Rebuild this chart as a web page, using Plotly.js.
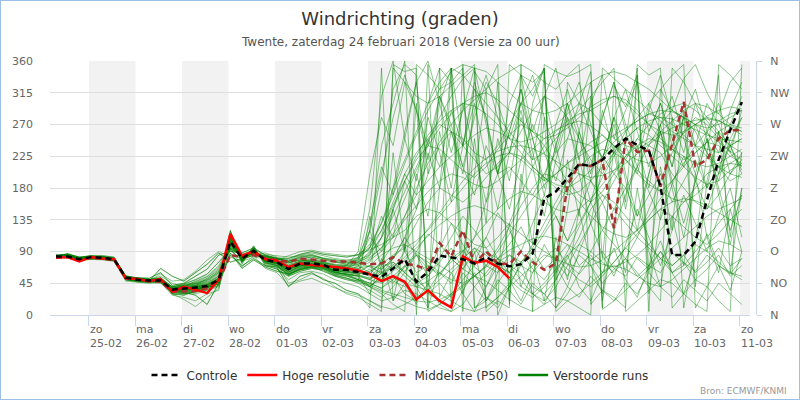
<!DOCTYPE html>
<html><head><meta charset="utf-8">
<script src="https://cdn.plot.ly/plotly-3.0.1.min.js"></script>
<style>
html,body{margin:0;padding:0;background:#fff;}
#chart{width:798px;height:398px;border:1px solid #9cc0ea;}
</style>
</head><body>
<div id="chart"></div>
<script>
// hours since 24-02 00:00 (local)
const timeHours = [7,13,19,25,31,37,43,49,55,61,67,73,79,85,91,97,103,109,115,121,127,133,139,145,151,157,163,169,175,181,187,193,199,205,211,217,223,229,235,241,247,253,259,265,271,277,283,289,295,301,307,313,319,325,331,337,343,349,355,361];
const tickHours = [24,48,72,96,120,144,168,192,216,240,264,288,312,336,360];
const dayNames = ['zo','ma','di','wo','do','vr','za','zo','ma','di','wo','do','vr','za','zo'];
const dayDates = ['25-02','26-02','27-02','28-02','01-03','02-03','03-03','04-03','05-03','06-03','07-03','08-03','09-03','10-03','11-03'];
const dirVals = [0,45,90,135,180,225,270,315,360];
const dirNames = ['N','NO','O','ZO','Z','ZW','W','NW','N'];

const controle = [83,83,79,82,81,79,53,50,49,49,36,37,39,41,50,104,80,91,78,75,65,73,73,71,64,64,61,57,54,66,79,47,61,84,81,79,73,82,73,69,72,87,165,175,194,214,211,220,236,250,241,233,182,85,85,104,163,220,262,302];
const hogeResolutie = [82,82,76,82,80,79,52,51,48,51,33,40,36,31,50,115,84,90,79,77,68,73,71,70,68,66,63,58,48,55,47,22,35,20,11,83,74,77,68,52];
const middelste = [81,82,78,81,80,78,52,50,48,47,33,33,34,38,48,85,82,85,80,78,75,80,78,77,76,76,74,72,73,82,73,70,64,102,83,120,73,90,73,72,90,75,64,73,184,213,211,220,123,250,231,233,182,243,302,211,220,250,262,262];

const run01 = [82,84,78,81,80,78,52,49,48,50,35,36,38,40,48,106,78,90,77,74,62,70,72,70,62,63,58,52,65,80,110,150,200,240,260,250,230,220,240,270,300,320,350,10,30,60,90,120,100,80,60,40,20,350,330,300,280,260,240,250];
const run02 = [85,86,81,84,83,81,56,52,51,47,40,38,42,48,60,95,84,87,82,78,72,76,77,74,70,68,66,70,85,95,100,90,80,70,60,75,110,160,200,210,190,170,200,230,250,245,240,225,200,180,210,240,270,290,280,260,230,210,190,200];
const run03 = [81,82,77,80,79,77,50,48,47,52,30,30,33,36,42,112,76,93,75,70,58,66,69,68,60,58,55,40,30,15,5,355,340,320,330,350,10,20,45,70,60,40,30,50,80,110,150,170,160,140,120,100,80,60,70,90,110,130,150,170];
const run04 = [83,87,82,82,84,82,54,53,52,60,42,45,55,65,85,90,88,95,85,80,76,80,82,78,75,72,75,90,120,160,200,230,250,270,260,240,220,200,210,230,260,290,310,300,280,250,220,200,230,260,280,300,320,340,355,10,40,70,60,50];
const run05 = [80,81,76,79,78,76,48,46,45,46,28,25,20,30,35,118,72,96,72,66,50,60,62,58,50,45,40,30,20,25,35,30,20,10,5,15,40,60,80,70,50,30,20,40,70,100,130,160,190,220,250,240,230,200,180,160,150,170,200,220];
const run06 = [84,83,79,82,80,79,53,50,50,55,45,40,48,55,70,100,85,85,88,82,78,85,88,84,80,78,80,95,130,180,220,260,300,330,350,340,320,300,280,260,240,220,230,250,270,290,310,330,350,5,20,35,50,45,30,15,5,355,340,320];
const run07 = [83,84,80,83,81,80,52,50,49,49,34,32,28,15,45,85,70,80,70,68,40,55,60,50,45,35,30,20,10,355,345,350,5,15,30,50,70,90,80,60,40,30,45,65,85,100,90,75,60,80,110,150,190,230,260,280,270,250,230,210];
const run08 = [82,85,79,82,82,78,54,51,48,66,55,48,60,72,88,75,80,84,82,79,80,86,90,86,84,82,85,92,100,110,120,140,150,145,130,115,100,95,110,130,170,210,240,260,275,285,290,300,310,305,290,270,250,235,220,230,245,260,270,265];
const run09 = [83,82,78,80,80,77,51,49,47,45,32,38,36,42,52,108,80,92,76,72,60,68,70,66,58,55,50,45,60,70,55,40,35,50,65,80,95,85,70,60,75,95,120,150,180,200,190,170,150,130,110,95,80,70,85,100,90,75,60,55];
const run10 = [84,86,82,84,83,80,55,52,50,51,37,42,45,50,62,92,78,86,84,80,74,78,76,72,68,70,72,80,95,115,140,170,190,210,225,240,255,265,260,250,245,250,260,270,285,300,290,270,250,240,235,245,260,275,290,300,295,285,270,260];
const run11 = [82,83,78,81,81,79,50,47,46,48,30,28,34,38,46,120,74,98,70,65,55,62,66,64,56,52,45,35,25,40,60,45,30,20,10,355,350,5,20,10,355,345,330,320,340,355,15,35,25,10,355,340,350,10,30,50,40,20,5,355];
const run12 = [83,85,80,82,82,80,53,51,49,47,36,34,30,35,40,102,82,89,79,76,66,74,74,72,66,62,60,70,65,80,100,130,160,180,170,160,175,195,215,230,220,205,190,200,215,230,245,255,240,220,200,185,175,190,210,230,245,240,225,215];
const run13 = [81,84,79,83,80,78,52,50,50,53,39,40,42,52,66,96,86,92,86,84,82,84,86,80,78,76,78,85,110,150,190,220,240,235,220,205,195,210,235,255,270,260,240,215,190,170,160,175,200,225,250,270,285,295,300,290,275,255,240,230];
const run14 = [84,83,80,82,81,79,54,50,49,50,35,37,41,44,55,110,79,94,77,73,45,50,58,52,40,30,25,15,5,350,330,310,300,310,325,340,355,10,25,40,55,70,85,80,65,50,40,55,75,95,115,135,150,140,125,110,100,115,135,150];
const run15 = [82,84,79,81,82,79,53,50,48,48,34,36,38,38,48,88,66,78,68,62,58,64,68,66,60,58,55,50,45,55,70,85,75,60,50,45,55,70,90,115,140,165,185,200,215,225,235,245,255,265,275,285,280,270,255,240,225,210,200,195];
const run16 = [83,83,78,82,80,78,52,49,49,50,37,36,40,41,50,105,81,91,78,75,64,73,73,71,64,64,62,58,75,100,140,180,215,245,270,290,305,320,335,345,355,5,15,25,20,10,0,350,335,320,305,290,275,260,250,240,235,230,240,250];
const run17 = [82,86,81,83,81,79,54,52,51,49,38,41,44,47,58,99,83,90,81,77,68,77,79,75,70,69,70,78,90,110,135,155,175,190,200,195,185,180,190,205,220,235,250,262,270,275,268,255,240,228,220,215,225,240,258,270,280,276,265,255];
const run18 = [85,84,79,80,80,78,51,48,47,50,33,31,35,40,44,114,77,95,74,70,57,65,68,62,55,50,48,40,55,75,60,45,55,80,110,140,120,95,70,50,35,25,40,60,90,125,160,195,225,250,265,255,240,225,210,195,185,190,205,215];
const run19 = [83,82,77,81,82,80,53,50,49,58,48,50,62,78,90,82,76,82,80,78,84,90,92,88,86,84,85,100,130,170,215,255,290,320,345,355,10,25,15,355,340,330,345,5,20,30,45,60,70,65,55,45,40,50,65,80,95,105,100,90];
const run20 = [81,83,78,82,79,77,50,48,48,47,30,22,12,25,38,95,68,84,66,60,42,48,52,45,38,32,28,20,12,8,15,25,35,30,20,10,5,12,25,45,70,100,130,160,190,210,225,235,230,220,205,190,175,165,160,170,185,200,215,225];
const run21 = [84,85,81,83,82,80,54,51,50,51,36,38,40,43,52,104,80,88,79,75,66,70,71,68,63,60,58,62,72,85,95,105,120,140,160,180,200,215,225,230,225,210,195,180,170,175,190,210,230,250,265,275,280,278,270,262,255,250,248,245];
const run22 = [82,83,79,81,80,78,52,49,48,46,35,33,37,39,47,109,78,93,77,73,61,69,72,69,61,57,52,45,38,50,68,90,115,100,80,65,55,70,95,125,155,180,200,195,180,160,140,125,115,110,120,140,165,190,215,240,260,275,285,290];
const run23 = [83,84,80,82,81,79,53,50,49,52,40,44,50,58,75,93,85,88,83,80,76,82,84,80,76,74,76,82,95,125,165,205,240,265,285,300,310,315,305,290,275,260,250,255,265,280,295,305,310,300,285,270,260,255,260,270,282,290,295,292];
const run24 = [84,86,82,84,83,80,55,52,50,51,37,42,45,50,62,92,78,86,84,80,74,78,76,72,68,70,74,68,60,52,45,40,48,60,75,90,110,130,150,165,175,170,160,150,145,150,165,185,205,225,240,250,245,235,225,215,210,215,225,235];
const run25 = [81,82,77,80,79,77,50,48,47,52,30,30,33,36,42,112,76,93,75,70,58,66,69,68,60,58,50,42,35,30,25,20,18,22,30,42,55,68,80,92,100,108,112,108,100,90,80,72,68,75,85,100,120,140,160,180,200,210,215,212];
const run26 = [83,87,82,82,84,82,54,53,52,60,42,45,55,65,85,90,88,95,85,80,76,80,82,78,75,72,74,88,110,140,175,210,245,280,310,335,350,345,330,315,300,290,285,290,300,315,330,340,345,340,330,320,305,290,280,270,265,270,280,290];
const run27 = [82,83,78,81,81,79,50,47,46,48,30,28,34,38,46,120,74,98,70,65,55,62,66,64,56,52,48,42,50,62,78,95,112,128,140,150,155,150,140,128,115,102,90,80,72,68,70,78,90,105,120,135,150,160,165,162,155,145,135,125];
const run28 = [85,84,79,80,80,78,51,48,47,50,33,31,35,40,44,114,77,95,74,70,57,65,68,62,55,50,46,40,33,25,18,12,8,15,28,40,55,48,35,22,12,5,355,345,338,345,355,8,20,35,50,65,80,95,110,125,140,150,158,165];
const run29 = [82,85,79,82,82,78,54,51,48,66,55,48,60,72,88,75,80,84,82,79,80,86,90,86,84,82,86,96,120,155,190,225,255,275,290,300,296,285,270,250,230,210,195,185,180,190,205,225,245,262,275,285,290,288,280,270,258,245,232,220];
const run30 = [82,84,79,81,82,79,53,50,48,48,34,36,38,38,48,88,66,78,68,62,58,64,68,66,60,58,56,52,58,68,82,100,122,145,168,190,208,222,232,238,240,236,228,218,208,200,195,198,205,215,228,242,255,265,272,276,278,275,268,260];
const run31 = [84,85,81,83,82,80,54,51,50,51,36,38,40,43,52,104,80,88,79,75,66,70,71,68,63,60,60,120,70,150,90,200,140,260,180,300,230,160,250,190,280,220,310,240,170,260,200,290,230,150,240,180,270,210,300,240,180,260,200,230];
const run32 = [82,83,79,81,80,78,52,49,48,46,35,33,37,39,47,109,78,93,77,73,61,69,72,69,61,57,55,30,80,20,100,40,10,70,350,30,90,20,60,130,40,80,20,110,50,150,70,30,120,60,180,90,40,140,70,200,110,60,150,90];
const run33 = [83,84,80,82,81,79,53,50,49,52,40,44,50,58,75,93,85,88,83,80,76,82,84,80,76,74,78,110,90,150,200,170,250,210,290,240,330,280,200,260,320,230,170,240,300,250,190,280,330,260,210,290,340,280,230,300,250,200,270,310];
const run34 = [83,84,80,83,81,80,52,50,49,49,34,32,28,15,45,85,70,80,70,68,40,55,60,50,45,35,30,10,350,20,45,15,355,25,60,30,5,40,80,50,20,60,100,70,40,90,130,85,55,100,150,110,70,120,170,130,90,140,180,110];
const run35 = [84,85,80,83,82,80,54,51,50,49,38,40,43,46,56,98,82,88,80,77,70,74,75,73,68,66,80,150,310,360,250,330,200,300,350,240,320,280,200,300,340,260,310,350,270,220,300,340,250,290,330,260,300,240,280,320,260,230,290,330];
const run36 = [83,83,79,81,81,79,53,50,49,50,36,35,37,40,49,103,79,90,78,74,63,71,72,70,63,62,70,60,75,65,90,60,70,55,80,65,95,70,60,85,75,90,65,80,100,70,85,60,75,95,80,65,90,70,85,60,75,95,70,80];
const run37 = [82,84,79,82,80,78,51,49,48,51,37,39,41,44,53,101,80,89,79,76,67,75,76,73,67,65,68,120,240,300,360,0,300,350,10,80,200,320,0,40,180,300,350,60,150,260,330,20,120,250,350,30,140,280,10,100,230,340,60,180];
const run38 = [84,83,78,82,81,80,52,50,48,47,34,33,36,39,47,107,77,92,76,72,59,67,70,67,59,56,50,40,55,45,70,50,35,60,45,80,55,40,70,60,90,65,50,75,55,85,70,45,65,80,55,70,90,60,75,50,65,85,55,70];
const run39 = [83,85,80,83,82,79,53,51,50,52,39,41,44,49,60,97,83,87,81,78,71,76,78,75,71,70,90,200,280,240,330,290,220,310,260,200,290,340,280,230,300,250,190,270,320,260,210,280,330,270,230,300,260,210,280,240,300,270,230,290];
const run40 = [82,83,78,81,80,78,52,49,48,49,35,34,37,40,48,110,78,94,76,71,60,68,70,68,61,59,56,50,62,48,40,58,30,45,25,60,40,20,50,35,15,45,30,10,40,25,55,35,20,45,30,60,40,25,50,35,20,45,30,15];
const run41 = [84,84,80,82,82,79,53,50,49,48,36,37,39,42,51,104,81,90,78,75,66,73,74,71,66,65,75,130,210,170,250,190,280,230,160,240,300,220,150,230,290,210,140,220,280,200,130,210,270,190,120,200,260,180,110,190,250,170,100,180];
const run42 = [83,82,78,80,81,78,52,50,49,51,37,36,40,43,52,100,79,88,78,74,64,72,72,70,64,63,62,70,58,80,110,85,65,95,130,100,75,110,145,120,90,130,170,140,105,150,190,160,120,170,210,175,135,185,225,190,150,200,240,205];
const run43 = [85,86,81,84,83,81,55,52,51,50,40,42,46,52,64,94,84,86,83,80,74,78,80,76,72,71,82,95,180,320,355,340,10,350,330,5,345,320,355,15,340,310,350,20,330,300,345,10,325,295,340,5,320,290,335,355,315,285,330,350];
const run44 = [81,82,77,80,79,77,50,48,47,49,32,30,32,36,44,115,75,96,73,68,56,64,67,65,58,55,50,45,38,55,30,20,45,15,5,35,60,25,10,40,75,30,15,50,85,40,20,60,95,50,25,70,105,60,30,80,115,70,35,90];
const run45 = [84,85,81,83,82,80,54,51,50,50,38,39,42,45,55,99,82,89,80,76,69,75,76,74,69,67,72,85,140,110,190,150,230,180,260,210,170,240,200,150,220,270,230,190,250,300,260,220,280,240,200,260,300,250,210,270,230,190,250,280];
const run46 = [82,84,79,81,80,79,52,49,48,48,34,35,38,40,47,108,77,91,77,73,61,70,71,69,62,60,58,65,50,72,60,85,55,75,95,65,88,110,80,100,125,90,115,140,105,130,160,120,150,180,140,170,200,160,190,220,180,210,240,200];
const run47 = [83,84,80,82,81,79,53,50,49,50,36,37,40,42,50,103,80,90,78,75,65,73,73,71,65,64,66,75,110,180,260,330,360,300,230,290,350,270,200,260,320,250,180,240,300,220,160,220,280,200,140,200,260,190,130,190,250,180,120,170];
const run48 = [84,83,79,82,80,78,52,50,48,49,35,36,39,41,49,105,79,91,77,74,63,72,72,70,63,62,60,55,68,75,62,88,70,58,80,92,68,55,75,85,70,60,80,95,72,58,78,90,66,55,82,70,60,88,74,62,85,70,58,80];
const run49 = [82,83,78,81,81,78,51,49,47,48,33,32,35,38,45,111,76,95,74,69,57,66,68,66,57,53,48,140,60,230,90,300,40,180,350,70,250,130,330,20,200,100,280,50,220,140,310,80,240,160,340,60,210,120,290,40,190,260,110,230];
const run50 = [83,86,81,83,82,80,54,52,50,53,40,43,47,54,68,95,86,90,84,81,77,83,85,81,78,76,82,120,200,280,340,290,240,310,270,210,280,330,300,250,300,340,280,230,290,330,270,220,280,320,260,210,270,310,250,200,260,300,240,280];

const verstoordeRuns = [run01,run02,run03,run04,run05,run06,run07,run08,run09,run10,run11,run12,run13,run14,run15,run16,run17,run18,run19,run20,run21,run22,run23,run24,run25,run26,run27,run28,run29,run30,run31,run32,run33,run34,run35,run36,run37,run38,run39,run40,run41,run42,run43,run44,run45,run46,run47,run48,run49,run50];

const traces = [];
verstoordeRuns.forEach(function(r){
  traces.push({x: timeHours.slice(0, r.length), y: r, type:'scatter', mode:'lines',
    line:{color:'rgba(0,128,0,0.45)', width:1}, showlegend:false, hoverinfo:'skip'});
});
traces.push({x:[null], y:[null], type:'scatter', mode:'lines', name:'Verstoorde runs',
  line:{color:'#008000', width:2.5}, legendrank:4, yaxis:'y2'});
traces.push({x: timeHours.slice(0, middelste.length), y: middelste, type:'scatter', mode:'lines', name:'Middelste (P50)',
  line:{color:'#a83232', width:2.5, dash:'6px,4px'}, legendrank:3});
traces.push({x: timeHours.slice(0, hogeResolutie.length), y: hogeResolutie, type:'scatter', mode:'lines', name:'Hoge resolutie',
  line:{color:'#ff0000', width:2.5}, legendrank:2});
traces.push({x: timeHours.slice(0, controle.length), y: controle, type:'scatter', mode:'lines', name:'Controle',
  line:{color:'#000000', width:2.5, dash:'6px,4px'}, legendrank:1});

const shapes = [];
for (let i = 0; i < tickHours.length; i += 2) {
  shapes.push({type:'rect', xref:'x', yref:'paper', x0: tickHours[i], x1: tickHours[i] + 24, y0:0, y1:1,
    fillcolor:'#f2f2f2', line:{width:0}, layer:'below'});
}

const annotations = [];
tickHours.forEach(function(h, i){
  annotations.push({x:h, xref:'x', y:0, yref:'paper', xanchor:'left', yanchor:'top', yshift:-6, xshift:-1,
    text: dayNames[i] + '<br>' + dayDates[i], align:'left', showarrow:false,
    font:{family:'DejaVu Sans', size:11, color:'#666666'}});
});
annotations.push({x:0.5, xref:'paper', y:1, yref:'paper', xshift:-3, yshift:19, yanchor:'middle', xanchor:'center',
  text:'Twente, zaterdag 24 februari 2018 (Versie za 00 uur)', showarrow:false,
  font:{family:'DejaVu Sans', size:12, color:'#555555'}});
annotations.push({x:1, xref:'paper', y:0, yref:'paper', xanchor:'right', yanchor:'middle', xshift:33, yshift:-76,
  text:'Bron: ECMWF/KNMI', showarrow:false, font:{family:'DejaVu Sans', size:9, color:'#999999'}});

const layout = {
  width:798, height:398,
  margin:{l:49, r:43, t:60, b:84, autoexpand:false},
  paper_bgcolor:'#ffffff', plot_bgcolor:'rgba(0,0,0,0)',
  font:{family:'DejaVu Sans', color:'#333333'},
  title:{text:'Windrichting (graden)', x:0.5, xref:'container', xanchor:'center', y:0.955, yref:'container', yanchor:'middle',
    font:{family:'DejaVu Sans', size:18, color:'#333333'}},
  xaxis:{range:[3.9, 365.2], domain:[0, 0.9915], tickvals:tickHours, showticklabels:false, ticks:'outside', ticklen:10,
    tickcolor:'#ccd6eb', showline:true, linecolor:'#ccd6eb', linewidth:1, showgrid:false, zeroline:false, fixedrange:true},
  yaxis:{range:[0,360], tickvals:dirVals, ticktext:dirVals.map(String), showgrid:true, gridcolor:'#dedede', gridwidth:1,
    zeroline:false, showline:false, ticks:'', ticklabelstandoff:16, tickfont:{family:'DejaVu Sans', size:11, color:'#666666'}},
  yaxis2:{range:[0,360], overlaying:'y', side:'right', anchor:'free', position:1, tickvals:dirVals, ticktext:dirNames,
    showgrid:false, zeroline:false, showline:true, linecolor:'#ccd6eb', ticks:'outside', ticklen:5, tickcolor:'#ccd6eb',
    ticklabelstandoff:6, tickfont:{family:'DejaVu Sans', size:11, color:'#666666'}},
  showlegend:true,
  legend:{orientation:'h', x:0.5, xref:'container', xanchor:'center', y:0.06, yref:'container', yanchor:'middle',
    font:{family:'DejaVu Sans', size:12, color:'#333333'}, bgcolor:'rgba(0,0,0,0)', traceorder:'normal'},
  shapes:shapes, annotations:annotations
};

Plotly.newPlot('chart', traces, layout, {displayModeBar:false, staticPlot:true});
</script>
</body></html>
